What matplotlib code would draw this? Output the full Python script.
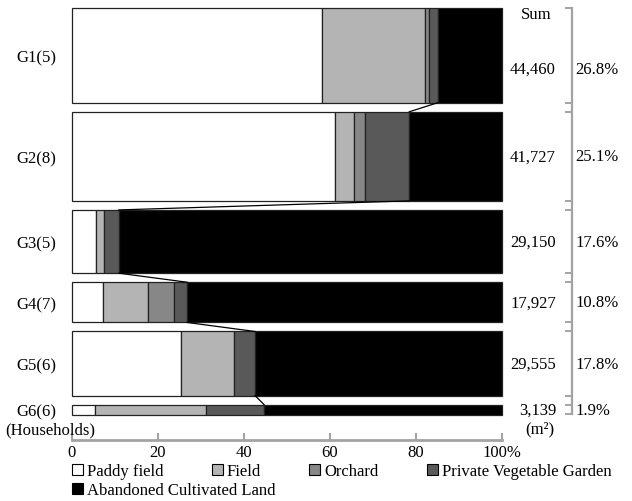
"""
Land use share by household group (stacked 100% bars, bar height ~ area share)
"""

import matplotlib

matplotlib.use("Agg")
import matplotlib.pyplot as plt
import matplotlib.transforms as mtransforms
import numpy as np
from matplotlib.patches import Patch

plt.rcParams["font.family"] = ["Liberation Serif", "DejaVu Serif"]
plt.rcParams["font.size"] = 12

# data
groups = ["G1(5)", "G2(8)", "G3(5)", "G4(7)", "G5(6)", "G6(6)"]
area_sum = [44460, 41727, 29150, 17927, 29555, 3139]
categories = [
    "Paddy field",
    "Field",
    "Orchard",
    "Private Vegetable Garden",
    "Abandoned Cultivated Land",
]
paddy = [58.2, 61.3, 5.6, 7.3, 25.3, 5.4]
field = [24.0, 4.3, 1.8, 10.4, 12.5, 25.9]
orchard = [0.8, 2.7, 0.0, 6.1, 0.0, 0.0]
garden = [2.1, 10.2, 3.5, 3.0, 4.8, 13.4]
abandoned = [14.9, 21.5, 89.1, 73.2, 57.4, 55.3]
x_ticks = [0, 20, 40, 60, 80, 100]
x_ticklabels = ["0", "20", "40", "60", "80", "100%"]

colors = ["white", "#b4b4b4", "#878787", "#595959", "black"]
gray = "#a3a3a3"

# bar height follows the share of total area
share = np.array(area_sum) / sum(area_sum) * 100
pad = 1.0  # keeps the tiny group visible
gap = 2.65
heights = share + pad
tops = np.concatenate([[0], np.cumsum(heights + gap)[:-1]])
centers = tops + heights / 2
bars_end = tops[-1] + heights[-1]

fig = plt.figure(figsize=(6.32, 5.02), dpi=100)
ax = fig.add_axes([72 / 632, 1 - 441 / 502, 429.7 / 632, 432 / 502])

# stacked bars
left = np.zeros(len(groups))
for vals, col, name in zip(
    [paddy, field, orchard, garden, abandoned], colors, categories
):
    vals = np.array(vals)
    m = vals > 0
    ax.barh(
        centers[m],
        vals[m],
        height=heights[m],
        left=left[m],
        color=col,
        edgecolor="#222222",
        linewidth=0.9,
        clip_on=False,
    )
    left += vals

# lines joining the start of abandoned land between bars
cut = np.array(paddy) + np.array(field) + np.array(orchard) + np.array(garden)
for i in range(len(groups) - 1):
    ax.plot(
        [cut[i], cut[i + 1]],
        [tops[i] + heights[i], tops[i + 1]],
        color="black",
        linewidth=0.9,
        clip_on=False,
    )

# axis settings
ax.set_xlim(0, 100)
ax.set_ylim(bars_end * 432 / 406.5, 0)
for side in ["left", "top", "right"]:
    ax.spines[side].set_visible(False)
ax.spines["bottom"].set_color(gray)
ax.spines["bottom"].set_linewidth(2)
ax.set_xticks(x_ticks, x_ticklabels)
ax.tick_params(
    axis="x", direction="in", length=5, width=1.5, color=gray, pad=3, labelsize=12
)
ax.set_yticks(centers, groups)
ax.tick_params(axis="y", length=0, pad=11, labelsize=12)

# sums and percentages on the right
trans = mtransforms.blended_transform_factory(fig.transFigure, ax.transData)
label_y = centers.copy()
label_y[0] += 4.0  # keep clear of the "Sum" header
for y, s, p in zip(label_y, area_sum, share):
    ax.text(556 / 632, y, f"{s:,}", transform=trans, ha="right", va="center")
    ax.text(575 / 632, y, f"{p:.1f}%", transform=trans, ha="left", va="center")

fig.text(536 / 632, 1 - 15 / 502, "Sum", ha="center", va="center")

# bracket
bx, tx = 571.5 / 632, 566 / 632
ax.plot([bx, bx], [tops[0], bars_end], color=gray, lw=1.6, transform=trans, clip_on=False)
for t, h in zip(tops, heights):
    for y in [t, t + h]:
        ax.plot([tx, bx], [y, y], color=gray, lw=1.4, transform=trans, clip_on=False)

fig.text(540 / 632, 1 - 429 / 502, "(m\u00b2)", ha="center", va="center")
fig.text(5 / 632, 1 - 430 / 502, "(Households)", ha="left", va="center")

# legend in two rows
handles = [Patch(facecolor=c, edgecolor="black", linewidth=0.8) for c in colors]
common = dict(
    frameon=False,
    handlelength=0.65,
    handleheight=0.65,
    handletextpad=0.25,
    columnspacing=2.9,
    borderaxespad=0,
    borderpad=0,
    fontsize=12,
    loc="center left",
)
fig.legend(handles[:4], categories[:4], ncol=4, bbox_to_anchor=(72 / 632, 1 - 472 / 502), **common)
fig.legend(handles[4:], categories[4:], ncol=1, bbox_to_anchor=(72 / 632, 1 - 491 / 502), **common)

plt.savefig("out.png", dpi=100)
